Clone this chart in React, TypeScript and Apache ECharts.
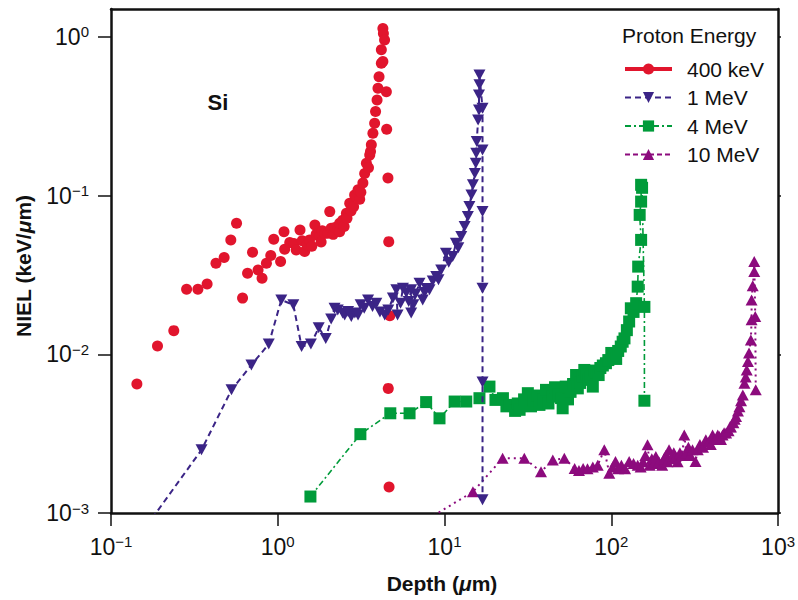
import React, { useEffect, useRef } from 'react';
import * as echarts from 'echarts';

// ---------- data (depth in µm, NIEL in keV/µm) ----------
const seriesNames = ['400 keV', '1 MeV', '4 MeV', '10 MeV'];
const depthTicks = [0.1, 1, 10, 100, 1000];
const nielTicks = [0.001, 0.01, 0.1, 1];

const kev400: [number, number][] = [
  [0.143, 0.0065], [0.19, 0.0113], [0.238, 0.0141], [0.284, 0.0257], [0.332, 0.0257],
  [0.377, 0.0277], [0.426, 0.0375], [0.477, 0.0407], [0.523, 0.0526], [0.566, 0.067],
  [0.615, 0.0226], [0.659, 0.0324], [0.706, 0.044], [0.762, 0.034], [0.805, 0.0302],
  [0.855, 0.0375], [0.908, 0.0419], [0.946, 0.0531], [1.04, 0.0384], [1.09, 0.0593],
  [1.1, 0.046], [1.18, 0.0506], [1.25, 0.05], [1.29, 0.0455], [1.36, 0.0608],
  [1.4, 0.052], [1.45, 0.0444], [1.5, 0.049], [1.55, 0.0526], [1.6, 0.048], [1.67, 0.0654],
  [1.7, 0.057], [1.78, 0.0552], [1.82, 0.051], [1.85, 0.06], [1.91, 0.0578], [2.0, 0.058],
  [2.05, 0.0793], [2.09, 0.0623], [2.15, 0.057], [2.2, 0.063], [2.3, 0.061], [2.35, 0.0593], [2.35, 0.067],
  [2.45, 0.07], [2.5, 0.064], [2.58, 0.0775], [2.6, 0.072], [2.7, 0.0895], [2.75, 0.08],
  [2.85, 0.085], [2.89, 0.101], [2.95, 0.0987], [3.03, 0.109], [3.1, 0.095],
  [3.15, 0.105], [3.24, 0.12], [3.32, 0.138], [3.4, 0.16], [3.5, 0.15],
  [3.56, 0.18], [3.6, 0.19], [3.64, 0.209], [3.72, 0.247], [3.81, 0.286],
  [3.86, 0.339], [3.94, 0.401], [3.99, 0.475], [4.05, 0.562], [4.18, 0.683],
  [4.18, 0.83], [4.27, 0.699], [4.27, 1.13], [4.3, 1.05], [4.37, 0.957],
  [4.48, 0.452], [4.5, 0.262], [4.58, 0.129], [4.63, 0.0513], [4.7, 0.0175],
  [4.6, 0.0061], [4.65, 0.00146],
];

const mev1: [number, number][] = [
  [0.15, 0.00073], [0.349, 0.0025], [0.528, 0.00597], [0.695, 0.00857], [0.883, 0.0116],
  [1.05, 0.022], [1.24, 0.0205], [1.39, 0.0112], [1.58, 0.0116], [1.76, 0.0147],
  [1.94, 0.0126], [2.09, 0.0167], [2.19, 0.0195], [2.29, 0.019], [2.45, 0.0182],
  [2.52, 0.0177], [2.64, 0.0186], [2.76, 0.0173], [2.9, 0.0182], [3.03, 0.0177],
  [3.14, 0.0205], [3.3, 0.0195], [3.48, 0.022], [3.7, 0.02], [3.9, 0.021],
  [4.1, 0.0185], [4.38, 0.0177], [4.6, 0.019], [4.9, 0.0226], [5.14, 0.0255],
  [5.23, 0.0177], [5.45, 0.021], [5.63, 0.0261], [5.9, 0.0244], [6.1, 0.0215],
  [6.31, 0.0255], [6.31, 0.0182], [6.5, 0.0205], [6.7, 0.024], [7.08, 0.028],
  [7.4, 0.022], [7.6, 0.0245], [7.8, 0.026], [8.13, 0.0255], [8.5, 0.029],
  [8.92, 0.0309], [9.2, 0.0295], [9.55, 0.034], [10.2, 0.0434], [10.6, 0.038],
  [11.2, 0.0413], [11.7, 0.0501], [12.1, 0.047], [12.6, 0.0552], [13.2, 0.0638],
  [13.8, 0.0738], [14.1, 0.0853], [14.5, 0.101], [14.8, 0.117], [15.2, 0.138],
  [15.4, 0.16], [15.5, 0.185], [15.6, 0.219], [15.9, 0.3], [16.1, 0.346],
  [16.1, 0.431], [16.2, 0.5], [16.2, 0.576], [16.9, 0.355], [16.9, 0.194],
  [16.9, 0.0793], [16.9, 0.0261], [16.9, 0.0067], [16.9, 0.00121],
];

const mev4: [number, number][] = [
  [1.57, 0.00127], [3.13, 0.00314], [4.73, 0.00425], [6.17, 0.00425], [7.76, 0.005],
  [9.33, 0.00395], [11.5, 0.00504], [13.5, 0.00504], [16.2, 0.00529], [18.6, 0.00626],
  [20.2, 0.00516], [22.4, 0.00529], [23.5, 0.0047], [24.6, 0.0048], [26.5, 0.0044],
  [27.5, 0.0049], [28.2, 0.00447], [30, 0.0052], [31.6, 0.00569], [33, 0.0047],
  [34, 0.0051], [36, 0.0055], [37.1, 0.0048], [39, 0.0052], [40.6, 0.00597],
  [42, 0.0049], [44.6, 0.00541], [46, 0.0062], [48, 0.0056], [50, 0.0053],
  [51.1, 0.00457], [53.3, 0.00626], [55, 0.0052], [57, 0.0058], [59, 0.0065],
  [61.5, 0.00741], [63, 0.0061], [65, 0.0066], [67, 0.0072], [68.9, 0.00797],
  [71, 0.0075], [73, 0.0069], [75, 0.0072], [77.5, 0.00626], [79, 0.0079],
  [81.1, 0.00763], [84, 0.0074], [86, 0.0082], [89, 0.0085], [92.9, 0.00879],
  [96, 0.0092], [100, 0.0102], [103, 0.0098], [107, 0.00935], [110, 0.0105],
  [114, 0.0112], [117, 0.012], [120, 0.0126], [124, 0.0142], [128, 0.0161],
  [131, 0.0195], [136, 0.0185], [141, 0.021], [144, 0.0267], [145, 0.0357],
  [151, 0.0526], [148, 0.0756], [151, 0.0917], [151, 0.117], [153, 0.112],
  [158, 0.0199], [158, 0.0051],
];

const mev10: [number, number][] = [
  [8, 0.00092], [14.8, 0.00136], [22.3, 0.00221], [30.1, 0.00221], [37.9, 0.00182],
  [44.6, 0.00216], [52.3, 0.00221], [60.3, 0.00191], [64, 0.00185], [67.8, 0.00191],
  [72, 0.0019], [77.5, 0.00195], [82.9, 0.002], [90.8, 0.0025], [97.3, 0.00178],
  [102, 0.00195], [106, 0.00211], [110, 0.0019], [115, 0.002], [121, 0.0019],
  [128, 0.00211], [136, 0.00205], [144, 0.002], [150, 0.00195], [155, 0.0021],
  [160, 0.0023], [165, 0.00269], [170, 0.002], [175, 0.0022], [180, 0.00205],
  [185, 0.00227], [193, 0.0021], [202, 0.002], [207, 0.0022], [212, 0.0023],
  [217, 0.0021], [222, 0.0025], [232, 0.0022], [237, 0.0024], [243, 0.00227],
  [250, 0.0021], [258, 0.0024], [266, 0.0023], [274, 0.0031], [282, 0.0024],
  [290, 0.0026], [298, 0.0023], [307, 0.0025], [320, 0.00211], [330, 0.0025],
  [340, 0.0027], [355, 0.0026], [369, 0.00289], [385, 0.0028], [395, 0.0027],
  [405, 0.0031], [415, 0.0029], [425, 0.0029], [435, 0.0031], [445, 0.00303],
  [455, 0.0029], [465, 0.0031], [475, 0.0032], [488, 0.00319], [505, 0.0033],
  [515, 0.0035], [522, 0.00348], [540, 0.0037], [550, 0.0039], [560, 0.00405],
  [575, 0.0044], [587, 0.00468], [600, 0.0051], [615, 0.00555], [629, 0.00657],
  [640, 0.0072], [649, 0.00797], [660, 0.009], [670, 0.0102], [687, 0.0123],
  [694, 0.0165], [694, 0.022], [705, 0.027], [720, 0.0332], [720, 0.0384],
  [730, 0.0173], [735, 0.00597],
];

// ---------- styling ----------
const FONT = "'Liberation Sans', Arial, Helvetica, sans-serif";
const INK = '#111111';
const RED = '#e1152d';
const BLUE = '#3b2486';
const GREEN = '#009b3a';
const PURPLE = '#8c0b7d';
const DOWN_TRI = 'path://M0,0L10,0L5,9Z';

function powLabel(v: number): string {
  const l = Math.log10(v);
  const e = Math.round(l);
  if (Math.abs(l - e) > 1e-6) return '';
  const exp = e < 0 ? '\u2212' + -e : String(e);
  return `{b|10}{s|${exp}}`;
}

const richLabel = {
  b: { fontFamily: FONT, fontSize: 23, lineHeight: 25, color: INK },
  s: { fontFamily: FONT, fontSize: 15, lineHeight: 15, color: INK, verticalAlign: 'top' },
};

export default function App() {
  const ref = useRef<HTMLDivElement>(null);

  useEffect(() => {
    if (!ref.current) return;
    const chart = echarts.init(ref.current, undefined, { renderer: 'svg' });

    const option: any = {
      animation: false,
      backgroundColor: '#ffffff',
      grid: { left: 111, right: 19, top: 9, bottom: 87, containLabel: false },
      xAxis: [
        {
          type: 'log',
          logBase: 10,
          min: depthTicks[0],
          max: depthTicks[depthTicks.length - 1],
          position: 'bottom',
          axisLine: { show: true, onZero: false, lineStyle: { color: INK, width: 2.5 } },
          axisTick: { show: true, inside: false, length: 13, lineStyle: { color: INK, width: 1.5 }, customValues: depthTicks },
          minorTick: { show: false },
          splitLine: { show: false },
          axisLabel: { formatter: powLabel, rich: richLabel, margin: 21, customValues: depthTicks },
        },
        {
          type: 'log',
          logBase: 10,
          min: depthTicks[0],
          max: depthTicks[depthTicks.length - 1],
          position: 'top',
          axisLine: { show: true, onZero: false, lineStyle: { color: INK, width: 2.5 } },
          axisTick: { show: false },
          axisLabel: { show: false },
          splitLine: { show: false },
        },
      ],
      yAxis: [
        {
          type: 'log',
          logBase: 10,
          min: 0.001,
          max: 1.5,
          position: 'left',
          axisLine: { show: true, onZero: false, lineStyle: { color: INK, width: 2.5 } },
          axisTick: { show: true, inside: false, length: 13, lineStyle: { color: INK, width: 1.5 }, customValues: nielTicks },
          minorTick: { show: false },
          splitLine: { show: false },
          axisLabel: { formatter: powLabel, rich: richLabel, margin: 22, customValues: nielTicks },
        },
        {
          type: 'log',
          logBase: 10,
          min: 0.001,
          max: 1.5,
          position: 'right',
          axisLine: { show: true, onZero: false, lineStyle: { color: INK, width: 2.5 } },
          axisTick: { show: true, inside: false, length: 3, lineStyle: { color: INK, width: 1.5 }, customValues: nielTicks },
          axisLabel: { show: false },
          splitLine: { show: false },
        },
      ],
      legend: {
        orient: 'vertical',
        left: 623,
        top: 57,
        padding: 0,
        itemWidth: 47,
        itemHeight: 14,
        itemGap: 4.5,
        selectedMode: false,
        textStyle: { fontFamily: FONT, fontSize: 21, lineHeight: 24, color: INK, padding: [0, 0, 0, 10] },
        data: [
          { name: seriesNames[0], lineStyle: { width: 4, opacity: 1, color: RED, type: 'solid' } },
          { name: seriesNames[1], lineStyle: { width: 2, type: [6, 4] } },
          { name: seriesNames[2], lineStyle: { width: 2, type: [6, 3, 2, 3] } },
          { name: seriesNames[3], lineStyle: { width: 2, type: [5, 3] } },
        ],
      },
      graphic: [
        {
          type: 'text', x: 622, y: 35, silent: true,
          style: { text: 'Proton Energy', fontFamily: FONT, fontSize: 21, fill: INK, verticalAlign: 'middle' },
        },
        {
          type: 'text', x: 218, y: 102, silent: true,
          style: { text: 'Si', fontFamily: FONT, fontSize: 22, fontWeight: 'bold', fill: INK, align: 'center', verticalAlign: 'middle' },
        },
        {
          type: 'text', x: 442, y: 583, silent: true,
          style: {
            text: '{b|Depth (}{i|\u03bc}{b|m)}', align: 'center', verticalAlign: 'middle',
            rich: {
              b: { fontFamily: FONT, fontSize: 21, fontWeight: 'bold', fill: INK },
              i: { fontFamily: FONT, fontSize: 21, fontWeight: 'bold', fontStyle: 'italic', fill: INK },
            },
          },
        },
        {
          type: 'text', x: 23, y: 266, rotation: Math.PI / 2, silent: true,
          style: {
            text: '{b|NIEL (keV/}{i|\u03bc}{b|m)}', align: 'center', verticalAlign: 'middle',
            rich: {
              b: { fontFamily: FONT, fontSize: 21, fontWeight: 'bold', fill: INK },
              i: { fontFamily: FONT, fontSize: 21, fontWeight: 'bold', fontStyle: 'italic', fill: INK },
            },
          },
        },
      ],
      series: [
        {
          name: seriesNames[0], type: 'line', data: kev400, z: 2,
          symbol: 'circle', symbolSize: 11,
          itemStyle: { color: RED, opacity: 1 },
          lineStyle: { width: 0, opacity: 0, color: RED },
          emphasis: { disabled: true }, silent: true,
        },
        {
          name: seriesNames[2], type: 'line', data: mev4, z: 3,
          symbol: 'rect', symbolSize: 12,
          itemStyle: { color: GREEN },
          lineStyle: { width: 1.6, color: GREEN, type: [6, 3, 2, 3] },
          emphasis: { disabled: true }, silent: true,
        },
        {
          name: seriesNames[3], type: 'line', data: mev10, z: 4,
          symbol: 'triangle', symbolSize: [12, 11],
          itemStyle: { color: PURPLE },
          lineStyle: { width: 2, color: PURPLE, type: [2, 4] },
          emphasis: { disabled: true }, silent: true,
        },
        {
          name: seriesNames[1], type: 'line', data: mev1, z: 5,
          symbol: DOWN_TRI, symbolSize: [12, 11],
          itemStyle: { color: BLUE },
          lineStyle: { width: 2, color: BLUE, type: [6, 4] },
          emphasis: { disabled: true }, silent: true,
        },
      ],
    };

    chart.setOption(option);
    return () => chart.dispose();
  }, []);

  return (
    <div
      ref={ref}
      style={{ position: 'fixed', left: 0, top: 0, width: 798, height: 600, background: '#fff' }}
    />
  );
}
